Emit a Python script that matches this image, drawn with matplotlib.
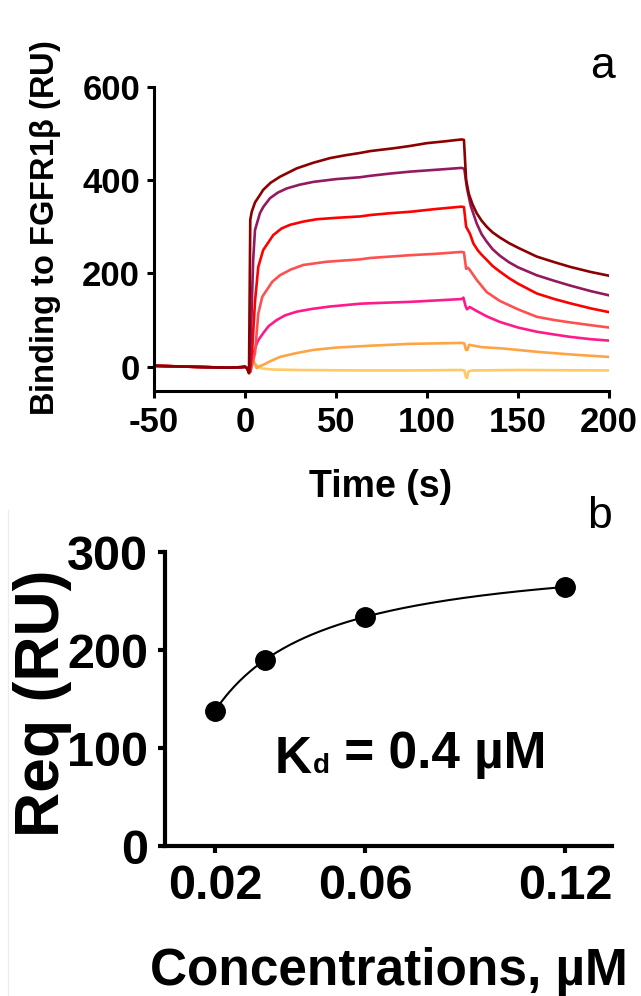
import numpy as np
import matplotlib.pyplot as plt
from matplotlib.lines import Line2D

plt.rcParams['font.family'] = ['Liberation Sans', 'DejaVu Sans']
plt.rcParams['font.weight'] = 'bold'
plt.rcParams['axes.unicode_minus'] = False
plt.rcParams['mathtext.fontset'] = 'custom'
plt.rcParams['mathtext.rm'] = 'Liberation Sans'
plt.rcParams['mathtext.bf'] = 'Liberation Sans:bold'

# ---- painel a: sensorgramas (tempo em s, resposta em RU) ----
t_base = [-50, -40, -30, -20, -10, -2, 0, 1]
ru_base = [2, 1, 0, -1, -2, -1, 0, -3]

t_c1 = [2.2, 2.9, 3.7, 5.5, 8.2, 10, 14, 19.2, 28.4, 37.5, 46.7, 55, 63.2, 68.7, 81.5, 90.7, 99.8, 110, 119,
        120.3, 121.5, 123, 125, 127.3, 130, 132.8, 136, 140, 145, 150, 160.3, 170, 178.6, 190, 200]
ru_c1 = [-14, 315, 332, 352, 368, 379, 394, 407, 425, 437, 447, 453, 458, 462, 468, 473, 479, 483, 487,
         486, 400, 370, 348, 329, 313, 300, 288, 277, 265, 255, 236, 224, 214, 203, 195]

t_c2 = [2.5, 3.5, 4.5, 5.5, 8.2, 10, 13.7, 18, 22.9, 30, 37.5, 50, 63.2, 68.7, 80, 90.7, 105, 119,
        120.5, 122, 124, 127.3, 130, 132.8, 136, 140, 145, 150, 160.3, 170, 178.6, 190, 200]
ru_c2 = [-10, 100, 230, 293, 329, 342, 361, 373, 382, 390, 396, 402, 406, 409, 414, 418, 422, 426,
         424, 382, 345, 307, 284, 268, 252, 238, 224, 213, 196, 184, 174, 162, 153]

t_c3 = [2.8, 4, 5.5, 7.3, 10, 15.5, 20, 24.7, 32, 39.4, 50, 63.2, 68.7, 80, 90.7, 105, 119,
        120.3, 121.5, 123.6, 125.5, 128, 130, 132.8, 136, 140, 145, 150, 160.3, 170, 178.6, 190, 200]
ru_c3 = [-10, 40, 140, 214, 250, 282, 296, 304, 311, 316, 319, 322, 325, 329, 332, 338, 343,
         342, 300, 285, 264, 249, 240, 229, 216, 204, 190, 178, 157, 145, 136, 125, 117]

t_c4 = [3, 5.5, 7.3, 9.5, 11.9, 15, 19.2, 25, 32, 45, 63.2, 68.7, 90.7, 105, 119,
        120.3, 121.5, 122.5, 123.6, 127.3, 132.8, 140, 150, 160.3, 170, 178.6, 190, 200]
ru_c4 = [-10, 29, 114, 150, 164, 182, 196, 208, 218, 225, 230, 233, 239, 242, 246,
         245, 210, 212, 207, 186, 160, 141, 123, 107, 100, 95, 89, 84]

t_c5 = [3, 4.6, 7, 10, 13, 17.4, 22, 28.4, 37, 46.7, 63.2, 68.7, 90.7, 105, 119,
        120, 121.2, 122, 123.5, 127, 132.8, 140, 150, 160.3, 170, 178.6, 190, 200]
ru_c5 = [-10, 30, 55, 72, 87, 100, 110, 118, 124, 129, 135, 136, 139, 142, 145,
         148, 130, 123, 128, 120, 108, 96, 84, 75, 69, 64, 59, 56]

t_c6 = [2.5, 3.5, 4.6, 6.4, 8, 10, 14, 19.2, 28, 37.5, 50, 68.7, 90.7, 119,
        120.5, 121.4, 122.2, 123.1, 130, 142, 160.3, 180, 200]
ru_c6 = [0, 8, 14, -3, 1, 4, 12, 21, 29, 36, 41, 45, 49, 51,
         50, 36, 36, 47, 42, 39, 32, 26, 21]

t_c7 = [2, 2.7, 3.6, 4.6, 6, 8, 10, 15, 30, 63.2, 90.7, 119,
        120.5, 121.4, 122, 122.8, 125, 150, 200]
ru_c7 = [-3, -14, 10, 8, 5, -2, -4, -6, -7, -8, -8, -7,
         -8, -22, -24, -10, -8, -7, -8]

curvas = [(t_c7, ru_c7, '#ffc966'), (t_c6, ru_c6, '#ffa445'), (t_c5, ru_c5, '#ff1a8c'),
          (t_c4, ru_c4, '#ff5050'), (t_c3, ru_c3, '#ff0000'), (t_c2, ru_c2, '#931a5e'),
          (t_c1, ru_c1, '#8b0000')]

# ---- painel b: Req vs concentração ----
conc = np.array([0.015625, 0.03125, 0.0625, 0.125])
req = np.array([138, 190, 234, 264])
xticks_b = [0.015625, 0.0625, 0.125]
xlabels_b = ['0.02', '0.06', '0.12']

# ajuste de ligação de um sítio (linearização recíproca)
slope, inter = np.polyfit(1 / conc, 1 / req, 1)
rmax = 1 / inter
kfit = slope * rmax
xc = np.linspace(conc[0], conc[-1], 200)
yc = rmax * xc / (kfit + xc)

W, H = 641, 996
fig = plt.figure(figsize=(W / 100, H / 100), dpi=100)

# painel a
ax1 = fig.add_axes([154 / W, 1 - 391 / H, 455 / W, 304.3 / H])
for t, ru, cor in curvas:
    ax1.plot(t_base + t, ru_base + ru, color=cor, lw=1.9)
ax1.set_xlim(-50, 200)
ax1.set_ylim(-52, 600)
ax1.set_xticks([-50, 0, 50, 100, 150, 200])
ax1.set_yticks([0, 200, 400, 600])
ax1.tick_params(labelsize=25, width=2.2, length=5, pad=6)
ax1.tick_params(axis='y', pad=5)
for s in ['top', 'right']:
    ax1.spines[s].set_visible(False)
for s in ['left', 'bottom']:
    ax1.spines[s].set_linewidth(2.2)

fig.text(381 / W, 1 - 497 / H, 'Time (s)', fontsize=27, ha='center', va='baseline')
fig.text(46 / W, 1 - 228 / H, r'Binding to FGFR1$\mathrm{\beta}$ (RU)', fontsize=23.5,
         rotation=90, ha='center', va='center')
fig.text(603 / W, 1 - 78 / H, 'a', fontsize=32, fontweight='normal', ha='center', va='baseline')

# painel b
ax2 = fig.add_axes([165 / W, 1 - 846 / H, 447 / W, 294 / H])
ax2.plot(xc, yc, color='black', lw=1.5)
ax2.plot(conc, req, 'o', color='black', ms=14)
ax2.set_xlim(0, 0.1397)
ax2.set_ylim(0, 300)
ax2.set_xticks(xticks_b)
ax2.set_xticklabels(xlabels_b)
ax2.set_yticks([0, 100, 200, 300])
ax2.tick_params(labelsize=35, width=3, length=5)
ax2.tick_params(axis='x', pad=8)
ax2.tick_params(axis='y', pad=7)
for s in ['top', 'right']:
    ax2.spines[s].set_visible(False)
for s in ['left', 'bottom']:
    ax2.spines[s].set_linewidth(3)

tk = ax2.text(275 / W, 1 - 773 / H, 'K', fontsize=37, transform=fig.transFigure, va='baseline')
td = ax2.annotate('d', xy=(1, 0), xycoords=tk, xytext=(0.5, 8), textcoords='offset points',
                  fontsize=20, va='baseline')
ax2.annotate(' = 0.4 µM', xy=(1, 0), xycoords=td, xytext=(0, 0), textcoords='offset points',
             fontsize=37, va='bottom')

fig.text(42 / W, 1 - 703 / H, 'Req (RU)', fontsize=45, rotation=90, ha='center', va='center')
fig.text(389 / W, 1 - 985 / H, 'Concentrations, µM', fontsize=37, ha='center', va='baseline')
fig.text(600 / W, 1 - 528 / H, 'b', fontsize=32, fontweight='normal', ha='center', va='baseline')

# linha clara na borda esquerda do painel b
fig.add_artist(Line2D([8 / W, 8 / W], [0, 1 - 510 / H], color='#ececec', lw=0.8))

fig.savefig('out.png', dpi=100)
